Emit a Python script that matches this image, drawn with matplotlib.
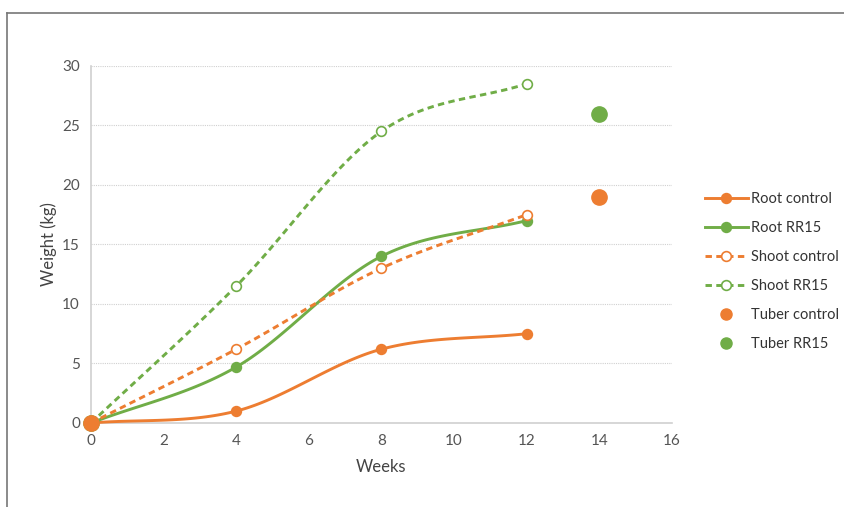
import numpy as np
import matplotlib.pyplot as plt
from matplotlib.lines import Line2D

plt.rcParams['font.family'] = ['Lato', 'DejaVu Sans']

weeks = [0, 4, 8, 12]
root_control = [0, 1.0, 6.2, 7.5]
root_rr15 = [0, 4.7, 14.0, 17.0]
shoot_control = [0, 6.2, 13.0, 17.5]
shoot_rr15 = [0, 11.5, 24.5, 28.5]
tuber_weeks = [0, 14]
tuber_control = [0, 19]
tuber_rr15 = [0, 26]

ORANGE = '#ED7D31'
GREEN = '#70AD47'


def smooth(x, y, n=40):
    # Catmull-Rom curve through the points, like a spreadsheet "smoothed line"
    x = np.asarray(x, float)
    y = np.asarray(y, float)
    px = np.concatenate([[2 * x[0] - x[1]], x, [2 * x[-1] - x[-2]]])
    py = np.concatenate([[2 * y[0] - y[1]], y, [2 * y[-1] - y[-2]]])
    xs, ys = [], []
    t = np.linspace(0, 1, n)
    for i in range(1, len(px) - 2):
        for p, out in ((px, xs), (py, ys)):
            p0, p1, p2, p3 = p[i - 1], p[i], p[i + 1], p[i + 2]
            out.extend(0.5 * (2 * p1 + (-p0 + p2) * t
                              + (2 * p0 - 5 * p1 + 4 * p2 - p3) * t ** 2
                              + (-p0 + 3 * p1 - 3 * p2 + p3) * t ** 3))
    return xs, ys


fig = plt.figure(figsize=(8.45, 5.07), dpi=100)
ax = fig.add_axes([0.1077, 0.1657, 0.6873, 0.7043])

series = [
    (root_control, ORANGE, '-', True, 'Root control'),
    (root_rr15, GREEN, '-', True, 'Root RR15'),
    (shoot_control, ORANGE, '--', False, 'Shoot control'),
    (shoot_rr15, GREEN, '--', False, 'Shoot RR15'),
]
handles = []
for vals, col, ls, filled, name in series:
    dash = (2.2, 1.5) if ls == '--' else (None, None)
    sx, sy = smooth(weeks, vals)
    ax.plot(sx, sy, color=col, ls=ls, lw=2.1, dashes=dash, zorder=3)
    ax.plot(weeks, vals, 'o', ms=7, color=col, mfc=col if filled else 'white',
            mew=1.2, zorder=4)
    handles.append(Line2D([], [], color=col, ls=ls, lw=2.1, marker='o', ms=7,
                          mfc=col if filled else 'white', mew=1.2, label=name,
                          dashes=dash))

ax.plot(tuber_weeks, tuber_rr15, 'o', ms=11, color=GREEN, ls='none', zorder=5)
ax.plot(tuber_weeks, tuber_control, 'o', ms=11, color=ORANGE, ls='none', zorder=6)
handles.append(Line2D([], [], color=ORANGE, marker='o', ms=8, ls='none', label='Tuber control'))
handles.append(Line2D([], [], color=GREEN, marker='o', ms=8, ls='none', label='Tuber RR15'))

ax.set_xlim(0, 16)
ax.set_ylim(0, 30)
ax.set_xticks(range(0, 17, 2))
ax.set_yticks(range(0, 31, 5))
ax.yaxis.grid(True, color='#D0D0D0', ls=(0, (1, 1)), lw=0.8)
ax.set_axisbelow(True)
for s in ('top', 'right'):
    ax.spines[s].set_visible(False)
for s in ('left', 'bottom'):
    ax.spines[s].set_color('#D0D0D0')
    ax.spines[s].set_linewidth(1.2)
ax.tick_params(length=0, labelsize=11, colors='#555555', pad=8)
ax.set_xlabel('Weeks', fontsize=12, color='#444444', labelpad=8)
ax.set_ylabel('Weight (kg)', fontsize=12, color='#444444', labelpad=4)
for ln in ax.lines:
    ln.set_clip_on(False)

fig.legend(handles=handles, loc='center left', bbox_to_anchor=(0.834, 0.4645),
           frameon=False, fontsize=10.5, labelspacing=1.02, handlelength=2.95,
           handletextpad=0.25, borderpad=0, borderaxespad=0, labelcolor='#333333')

# thin outer frame along the top and left edges
fig.add_artist(Line2D([0.008, 1.0], [0.975, 0.975], color='#777777', lw=1.2))
fig.add_artist(Line2D([0.008, 0.008], [0.0, 0.975], color='#777777', lw=1.2))

fig.savefig('out.png', dpi=100, facecolor='white')
